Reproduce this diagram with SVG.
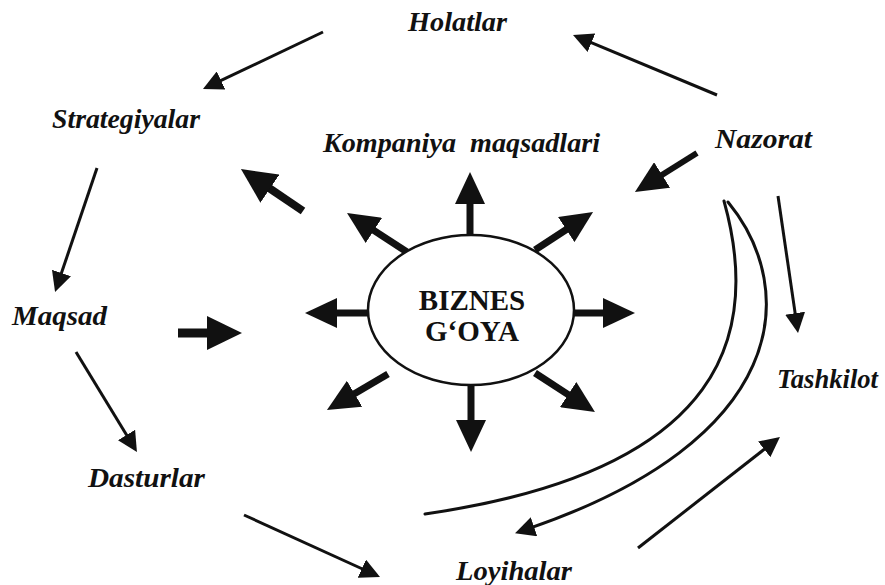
<svg xmlns="http://www.w3.org/2000/svg" width="885" height="585" viewBox="0 0 885 585">
<style>
.lbl{font-family:"Liberation Serif","Times New Roman",serif;font-style:italic;font-weight:bold;font-size:27px;fill:#111}
.core{font-family:"Liberation Serif","Times New Roman",serif;font-weight:bold;font-size:29px;fill:#111;text-anchor:middle}
.thin{stroke:#111;stroke-width:3;fill:none;marker-end:url(#hThin)}
.thick{stroke:#111;stroke-width:7;fill:none;marker-end:url(#hThick)}
.big{stroke:#111;stroke-width:8;fill:none;marker-end:url(#hBig)}
.arc{stroke:#111;stroke-width:3;fill:none;stroke-linecap:round}
</style>
<defs>
<marker id="hThin" markerUnits="userSpaceOnUse" viewBox="0 0 20 20" markerWidth="20" markerHeight="20" refX="8" refY="10" orient="auto"><path d="M0,0 L20,10 L0,20 z" fill="#111"/></marker>
<marker id="hThick" markerUnits="userSpaceOnUse" viewBox="0 0 32 30" markerWidth="32" markerHeight="30" refX="12" refY="15" orient="auto"><path d="M0,0 L32,15 L0,30 z" fill="#111"/></marker>
<marker id="hBig" markerUnits="userSpaceOnUse" viewBox="0 0 35 34" markerWidth="35" markerHeight="34" refX="12" refY="17" orient="auto"><path d="M0,0 L35,17 L0,34 z" fill="#111"/></marker>
</defs>
<rect width="885" height="585" fill="#fff"/>
<g id="connectors">
<line class="thin" x1="323" y1="32" x2="213.8" y2="83.9"/>
<line class="thin" x1="717" y1="95" x2="584.1" y2="39.6"/>
<line class="thin" x1="97" y1="168" x2="58.9" y2="280.6"/>
<line class="thin" x1="76" y1="352" x2="130.7" y2="441.8"/>
<line class="thin" x1="244" y1="515" x2="369.1" y2="572"/>
<line class="thin" x1="638" y1="548" x2="770.5" y2="444.4"/>
<line class="thin" x1="778" y1="196" x2="796.3" y2="321.1"/>
<path class="arc" d="M724,201 C760,330 730,470 425,514"/>
<path class="arc" style="marker-end:url(#hThin)" d="M728,202 C800,290 790,440 526.4,529.3"/>
<line class="thick" x1="470" y1="236" x2="470" y2="192"/>
<line class="thick" x1="535" y1="250" x2="576.3" y2="223"/>
<line class="thick" x1="573" y1="313" x2="615" y2="313"/>
<line class="thick" x1="535" y1="373" x2="578.2" y2="401.1"/>
<line class="thick" x1="471" y1="386" x2="471" y2="432"/>
<line class="thick" x1="388" y1="374" x2="344.2" y2="399.8"/>
<line class="thick" x1="368" y1="313" x2="325" y2="313"/>
<line class="thick" x1="407" y1="252" x2="363.8" y2="223.9"/>
<line class="thick" style="stroke-width:6" x1="697" y1="153" x2="651.9" y2="181.3"/>
<line class="big" x1="303" y1="211" x2="260" y2="181.9"/>
<line class="big" style="stroke-width:9" x1="178" y1="333" x2="219" y2="333"/>
</g>
<g id="biznes-goya">
<ellipse cx="471" cy="310" rx="103" ry="75" fill="#fff" stroke="#111" stroke-width="2.5"/>
<text class="core" x="472" y="310">BIZNES</text>
<text class="core" x="472" y="341">G‘OYA</text>
</g>
<g id="holatlar"><text class="lbl" x="408" y="31" textLength="99" lengthAdjust="spacingAndGlyphs">Holatlar</text></g>
<g id="strategiyalar"><text class="lbl" x="52" y="128" textLength="148" lengthAdjust="spacingAndGlyphs">Strategiyalar</text></g>
<g id="kompaniya-maqsadlari"><text class="lbl" x="323" y="152" textLength="277" lengthAdjust="spacingAndGlyphs" xml:space="preserve">Kompaniya  maqsadlari</text></g>
<g id="nazorat"><text class="lbl" x="715" y="148" textLength="97" lengthAdjust="spacingAndGlyphs">Nazorat</text></g>
<g id="maqsad"><text class="lbl" x="12" y="325" textLength="95" lengthAdjust="spacingAndGlyphs">Maqsad</text></g>
<g id="tashkilot"><text class="lbl" x="777" y="388" textLength="101" lengthAdjust="spacingAndGlyphs">Tashkilot</text></g>
<g id="dasturlar"><text class="lbl" x="88" y="487" textLength="117" lengthAdjust="spacingAndGlyphs">Dasturlar</text></g>
<g id="loyihalar"><text class="lbl" x="456" y="580" textLength="116" lengthAdjust="spacingAndGlyphs">Loyihalar</text></g>
</svg>
